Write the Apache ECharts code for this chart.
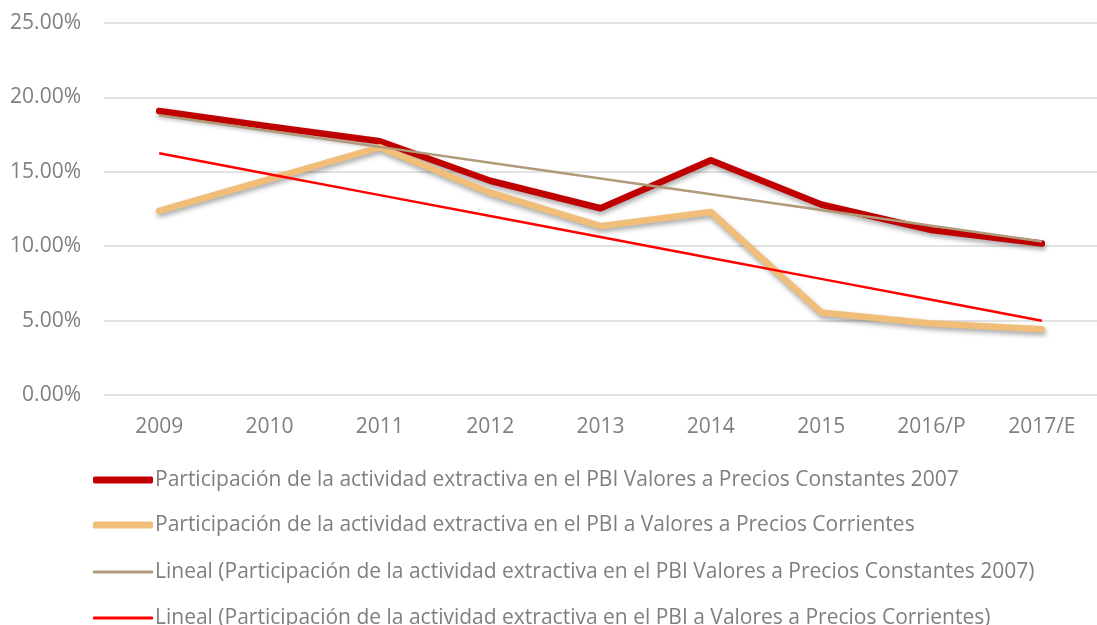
<!DOCTYPE html>
<html>
<head>
<meta charset="utf-8">
<script src="https://cdn.jsdelivr.net/npm/echarts@6/dist/echarts.min.js"></script>
<style>html,body{margin:0;padding:0;background:#fff}#c{width:1097px;height:625px}</style>
</head>
<body>
<div id="c"></div>
<script>
const categories = ['2009','2010','2011','2012','2013','2014','2015','2016/P','2017/E'];
const constantes = [19.09, 18.05, 17.05, 14.4, 12.55, 15.78, 12.8, 11.08, 10.18];
const corrientes = [12.38, 14.5, 16.65, 13.6, 11.35, 12.3, 5.55, 4.81, 4.42];
const seriesNames = [
  'Participación de la actividad extractiva en el PBI Valores a Precios Constantes 2007',
  'Participación de la actividad extractiva en el PBI a Valores a Precios Corrientes',
  'Lineal (Participación de la actividad extractiva en el PBI Valores a Precios Constantes 2007)',
  'Lineal (Participación de la actividad extractiva en el PBI a Valores a Precios Corrientes)'
];
const yTicks = [0, 5, 10, 15, 20, 25];

function linearTrend(vals) {
  const n = vals.length;
  const mx = (n - 1) / 2;
  const my = vals.reduce((a, b) => a + b, 0) / n;
  let sxy = 0, sxx = 0;
  vals.forEach((v, i) => { sxy += (i - mx) * (v - my); sxx += (i - mx) * (i - mx); });
  const b = sxy / sxx;
  return vals.map((v, i) => +(my + b * (i - mx)).toFixed(4));
}

const font = '"Open Sans", Lato, sans-serif';
const textColor = '#7f7f7f';
const colors = ['#c00000', '#f0be78', '#b09a7a', '#ff0000'];
const chart = echarts.init(document.getElementById('c'), null, {renderer: 'canvas'});
const shadow = {shadowColor: 'rgba(0,0,0,0.35)', shadowBlur: 5, shadowOffsetX: 1, shadowOffsetY: 3};

const legendTops = [468, 513, 560, 606];
const legendHeights = [7, 7, 3, 3];
const legends = seriesNames.map((n, i) => ({
  orient: 'vertical',
  left: 93,
  top: legendTops[i],
  padding: 0,
  itemWidth: 60,
  itemHeight: legendHeights[i],
  icon: 'roundRect',
  selectedMode: false,
  textStyle: {color: textColor, fontSize: 21, fontFamily: font, padding: [0, 0, 0, -3], lineHeight: 24},
  data: [{name: n, itemStyle: {color: colors[i]}}]
}));

chart.setOption({
  animation: false,
  backgroundColor: '#ffffff',
  grid: {left: 104, right: -11, top: 23, height: 372, containLabel: false},
  xAxis: {
    type: 'category',
    data: categories,
    boundaryGap: true,
    axisLine: {show: false},
    axisTick: {show: false},
    axisLabel: {color: textColor, fontSize: 21, fontFamily: font, margin: 22}
  },
  yAxis: {
    type: 'value',
    min: yTicks[0],
    max: yTicks[yTicks.length - 1],
    interval: 5,
    axisLine: {show: false},
    axisTick: {show: false},
    splitLine: {lineStyle: {color: '#d9d9d9', width: 1.5}},
    axisLabel: {color: textColor, fontSize: 21, fontFamily: font, margin: 23,
      formatter: v => v.toFixed(2) + '%'}
  },
  legend: legends,
  series: [
    {name: seriesNames[0], type: 'line', data: constantes, symbol: 'none', z: 2,
      color: colors[0],
      lineStyle: Object.assign({color: colors[0], width: 6.5, cap: 'round', join: 'round'}, shadow)},
    {name: seriesNames[1], type: 'line', data: corrientes, symbol: 'none', z: 3,
      color: colors[1],
      lineStyle: Object.assign({color: colors[1], width: 6.5, cap: 'round', join: 'round'}, shadow)},
    {name: seriesNames[2], type: 'line', data: linearTrend(constantes), symbol: 'none', z: 4,
      color: colors[2],
      lineStyle: {color: colors[2], width: 2.5}},
    {name: seriesNames[3], type: 'line', data: linearTrend(corrientes), symbol: 'none', z: 5,
      color: colors[3],
      lineStyle: {color: colors[3], width: 2.5}}
  ]
});
</script>
</body>
</html>
